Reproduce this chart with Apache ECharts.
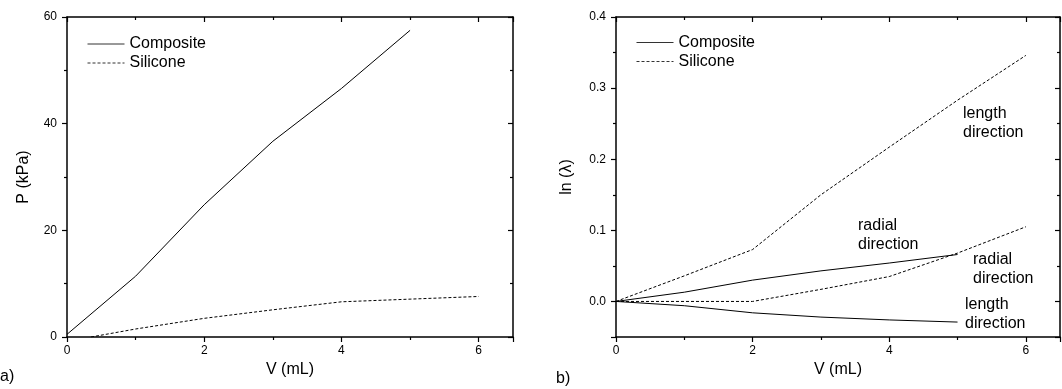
<!DOCTYPE html>
<html>
<head>
<meta charset="utf-8">
<script src="https://cdn.jsdelivr.net/npm/echarts@6/dist/echarts.min.js"></script>
<style>
  html, body { margin: 0; padding: 0; background: #fff; }
  #chart { width: 1062px; height: 389px; }
</style>
</head>
<body>
<div id="chart"></div>
<script>
// panel a) pressure vs volume
var volumeComposite = [0, 1, 2, 3, 4, 5]
var pressureComposite = [0.5, 11.4, 24.8, 36.7, 46.6, 57.5]
var volumeSilicone = [0.35, 1, 2, 3, 4, 5, 6]
var pressureSilicone = [0, 1.5, 3.5, 5.1, 6.6, 7.1, 7.6]

// panel b) ln(lambda) vs volume
var strainVolumeComposite = [0, 1, 2, 3, 4, 5]
var compositeRadial = [0, 0.013, 0.030, 0.043, 0.054, 0.066]
var compositeLength = [0, -0.006, -0.016, -0.022, -0.026, -0.029]
var strainVolumeSilicone = [0, 1, 2, 3, 4, 5, 6]
var siliconeLength = [0, 0.036, 0.073, 0.150, 0.217, 0.283, 0.346]
var siliconeRadial = [0, 0, 0, 0.017, 0.035, 0.068, 0.105]

var xTicks = { min: 0, max: 6.5, interval: 2 }
var pTicks = { min: 0, max: 60, interval: 20 }
var lnTicks = { min: -0.05, max: 0.4 }

var FONT = '"Liberation Sans", Arial, sans-serif'

function pairs(xs, ys) {
  return xs.map(function (x, i) { return [x, ys[i]] })
}

function axisBase(gridIndex, mirror) {
  return {
    type: 'value',
    gridIndex: gridIndex,
    axisLine: { show: true, onZero: false, lineStyle: { color: '#000', width: 1.5 } },
    axisTick: { show: true, inside: mirror, length: 5, lineStyle: { color: '#000', width: 1.2 } },
    minorTick: { show: true, splitNumber: 2, length: 3, lineStyle: { color: '#000', width: 1.2 } },
    splitLine: { show: false },
    minorSplitLine: { show: false },
    axisLabel: {
      show: !mirror,
      color: '#000',
      fontSize: 12,
      fontFamily: FONT,
      margin: 8,
      showMaxLabel: false
    }
  }
}

function xAxisFor(gridIndex, mirror) {
  var a = axisBase(gridIndex, mirror)
  a.position = mirror ? 'top' : 'bottom'
  a.min = xTicks.min
  a.max = xTicks.max
  a.interval = xTicks.interval
  if (!mirror) {
    a.name = 'V (mL)'
    a.nameLocation = 'middle'
    a.nameGap = 24
    a.nameTextStyle = { color: '#000', fontSize: 16, fontFamily: FONT }
  }
  return a
}

function yAxisP(mirror) {
  var a = axisBase(0, mirror)
  a.position = mirror ? 'right' : 'left'
  a.min = pTicks.min
  a.max = pTicks.max
  a.interval = pTicks.interval
  a.axisLabel.showMaxLabel = true
  a.axisLabel.margin = 10
  if (!mirror) {
    a.name = 'P (kPa)'
    a.nameLocation = 'middle'
    a.nameGap = 35
    a.nameTextStyle = { color: '#000', fontSize: 16, fontFamily: FONT }
  }
  return a
}

function yAxisLn(mirror) {
  var a = axisBase(1, mirror)
  a.position = mirror ? 'right' : 'left'
  a.min = lnTicks.min
  a.max = lnTicks.max
  a.splitNumber = 5
  a.axisLabel.showMaxLabel = true
  a.axisLabel.showMinLabel = false
  a.axisLabel.margin = 10
  a.axisLabel.formatter = function (v) { return v.toFixed(1) }
  if (!mirror) {
    a.name = 'ln (\u03bb)'
    a.nameLocation = 'middle'
    a.nameGap = 41
    a.nameTextStyle = { color: '#000', fontSize: 16, fontFamily: FONT }
  }
  return a
}

function lineSeries(name, data, dashed, xi, yi) {
  return {
    name: name,
    type: 'line',
    xAxisIndex: xi,
    yAxisIndex: yi,
    data: data,
    showSymbol: false,
    symbol: 'none',
    smooth: false,
    silent: true,
    lineStyle: { color: '#000', width: 1, type: dashed ? [3, 2] : 'solid' },
    itemStyle: { color: '#000' }
  }
}

function legendAt(left, top) {
  return {
    data: ['Composite', 'Silicone'],
    orient: 'vertical',
    left: left,
    top: top,
    itemWidth: 37,
    itemHeight: 16,
    itemGap: 3,
    selectedMode: false,
    itemStyle: { opacity: 0, borderWidth: 0 },
    lineStyle: { width: 1, color: '#333' },
    textStyle: { color: '#000', fontSize: 16, fontFamily: FONT }
  }
}

function note(text, left, top) {
  return {
    type: 'text',
    left: left,
    top: top,
    silent: true,
    style: { text: text, fill: '#000', fontSize: 16, fontFamily: FONT, lineHeight: 19 }
  }
}

var myChart = echarts.init(document.getElementById('chart'))
var option = {
  animation: false,
  backgroundColor: '#fff',
  textStyle: { fontFamily: FONT },
  grid: [
    { left: 67, right: 549, top: 17, bottom: 52 },
    { left: 616, right: 2, top: 17, bottom: 52 }
  ],
  legend: [legendAt(82, 31), legendAt(631, 29.5)],
  xAxis: [xAxisFor(0, false), xAxisFor(0, true), xAxisFor(1, false), xAxisFor(1, true)],
  yAxis: [yAxisP(false), yAxisP(true), yAxisLn(false), yAxisLn(true)],
  series: [
    lineSeries('Composite', pairs(volumeComposite, pressureComposite), false, 0, 0),
    lineSeries('Silicone', pairs(volumeSilicone, pressureSilicone), true, 0, 0),
    lineSeries('Composite', pairs(strainVolumeComposite, compositeRadial), false, 2, 2),
    lineSeries('Composite', pairs(strainVolumeComposite, compositeLength), false, 2, 2),
    lineSeries('Silicone', pairs(strainVolumeSilicone, siliconeLength), true, 2, 2),
    lineSeries('Silicone', pairs(strainVolumeSilicone, siliconeRadial), true, 2, 2)
  ],
  graphic: [
    note('a)', 0, 367),
    note('b)', 556, 369),
    note('length\ndirection', 963, 104.5),
    note('radial\ndirection', 858, 216),
    note('radial\ndirection', 973, 250.5),
    note('length\ndirection', 965, 295.5)
  ]
}
myChart.setOption(option, true)
</script>
</body>
</html>
